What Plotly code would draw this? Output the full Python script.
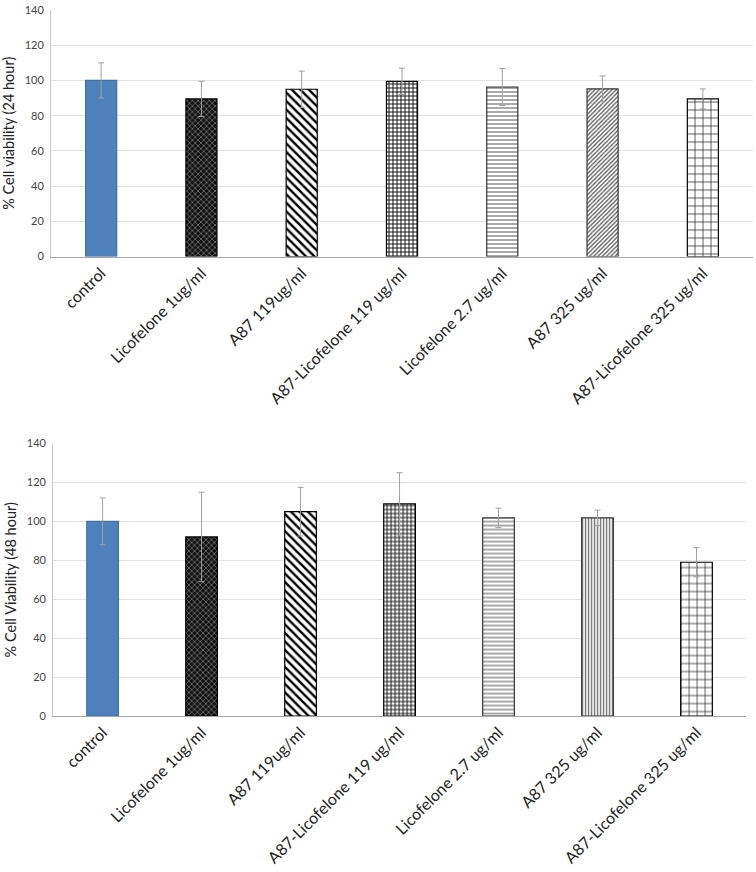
import plotly.graph_objects as go

categories = ["control", "Licofelone 1ug/ml", "A87 119ug/ml", "A87-Licofelone 119 ug/ml",
              "Licofelone 2.7 ug/ml", "A87 325 ug/ml", "A87-Licofelone 325 ug/ml"]

viability_24h = [100, 89.5, 95, 99.5, 96.3, 95.2, 89.5]
error_24h = [10, 10, 10.3, 7.5, 10.5, 7.3, 5.7]

viability_48h = [100, 92, 105, 109, 101.8, 101.8, 79]
error_48h = [12, 23, 12.5, 16, 5, 4, 7.5]

y_ticks = [0, 20, 40, 60, 80, 100, 120, 140]

# pattern styles per category
shapes_24 = ["", "x", "\\", "+", "-", "/", "+"]
shapes_48 = ["", "x", "\\", "+", "-", "|", "+"]
bg = ["#4F81BD", "#111111", "white", "white", "white", "white", "white"]
fg_24 = ["#4F81BD", "#8a8a8a", "black", "black", "#707070", "#505050", "black"]
fg_48 = ["#4F81BD", "#8a8a8a", "black", "black", "#707070", "#707070", "black"]
sizes_24 = [6, 4, 6, 4, 4, 3, 8]
sizes_48 = [6, 4, 6, 4, 4, 3, 8]
solid_24 = [0.3, 0.3, 0.4, 0.4, 0.3, 0.4, 0.15]
solid_48 = [0.3, 0.3, 0.4, 0.4, 0.3, 0.45, 0.15]
line_cols = ["#41719C", "black", "black", "black", "#333333", "#333333", "black"]

font_main = "Lato, 'Liberation Sans', sans-serif"

fig = go.Figure()


def add_bars(values, errors, shapes, fgs, sizes, solids, width, xa, ya):
    for i, cat in enumerate(categories):
        pattern = dict(shape=shapes[i], bgcolor=bg[i], fgcolor=fgs[i],
                       fgopacity=1, size=sizes[i], solidity=solids[i])
        fig.add_trace(go.Bar(
            x=[cat], y=[values[i]], width=width,
            marker=dict(color=bg[i], line=dict(color=line_cols[i], width=1.2),
                        pattern=pattern),
            error_y=dict(type="data", array=[errors[i]], color="#A0A0A0",
                         thickness=1, width=3),
            xaxis=xa, yaxis=ya, showlegend=False,
        ))


add_bars(viability_24h, error_24h, shapes_24, fg_24, sizes_24, solid_24, 0.31, "x", "y")
add_bars(viability_48h, error_48h, shapes_48, fg_48, sizes_48, solid_48, 0.32, "x2", "y2")

xcommon = dict(showgrid=False, showline=True, linecolor="#A6A6A6", linewidth=1,
               tickangle=-45, ticks="", tickfont=dict(family=font_main, size=16, color="#222222"),
               categoryorder="array", categoryarray=categories, fixedrange=True)
ycommon = dict(range=[0, 140], tickvals=y_ticks, showgrid=True, gridcolor="#E3E3E3",
               showline=True, linecolor="#C8C8C8", zeroline=False, ticks="",
               tickfont=dict(family=font_main, size=11, color="#444444"),
               ticklabelstandoff=4)

fig.update_layout(
    width=756, height=872,
    barmode="overlay",
    margin=dict(l=51, r=3, t=6, b=156),
    paper_bgcolor="white", plot_bgcolor="white",
    xaxis=dict(domain=[0, 1], anchor="y", **xcommon),
    yaxis=dict(domain=[0.6507, 1], anchor="x",
               title=dict(text="% Cell viability (24 hour)", standoff=6,
                          font=dict(family=font_main, size=14.5, color="#222222")),
               **ycommon),
    xaxis2=dict(domain=[0.003, 0.990], anchor="y2", **xcommon),
    yaxis2=dict(domain=[0, 0.3859], anchor="x2",
                title=dict(text="% Cell Viability (48 hour)", standoff=6,
                           font=dict(family=font_main, size=14.5, color="#222222")),
                **ycommon),
)

fig.write_html("out.html")
